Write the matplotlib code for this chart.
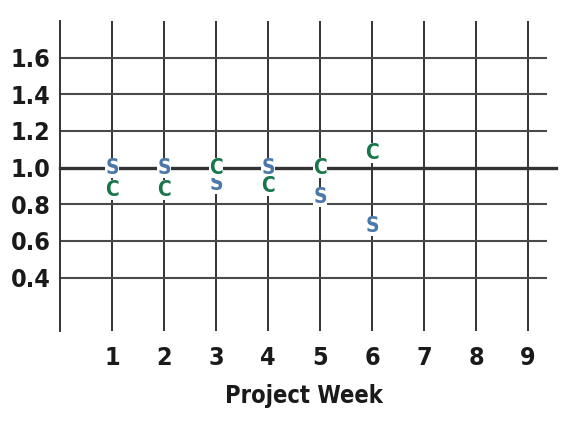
import matplotlib
matplotlib.use('Agg')
import matplotlib.pyplot as plt

# Project performance index per week (S = schedule, C = cost)
weeks = [1, 2, 3, 4, 5, 6]
spi = [1.00, 1.00, 0.91, 1.00, 0.84, 0.68]
cpi = [0.88, 0.88, 1.00, 0.90, 1.00, 1.08]

x_ticks = [1, 2, 3, 4, 5, 6, 7, 8, 9]
y_ticks = [0.4, 0.6, 0.8, 1.0, 1.2, 1.4, 1.6]
y_tick_labels = ['0.4', '0.6', '0.8', '1.0', '1.2', '1.4', '1.6']

FONT = dict(family='DejaVu Sans', fontstretch='condensed', fontweight='bold')
S_COLOR = '#4a78a8'
C_COLOR = '#17774a'
LINE_COLOR = '#333333'
TEXT_COLOR = '#1a1a1a'

fig = plt.figure(figsize=(5.71, 4.24), dpi=100)
ax = fig.add_axes([60 / 571, 1 - 331 / 424, 487 / 571, 310 / 424])

ax.set_xlim(0, 487 / 52)
ax.set_ylim(0.108, 1.800)

for s in ['top', 'right', 'bottom']:
    ax.spines[s].set_visible(False)
ax.spines['left'].set_color(LINE_COLOR)
ax.spines['left'].set_linewidth(1.4)

# grid lines
for xv in x_ticks:
    ax.axvline(xv, color=LINE_COLOR, linewidth=1.4, zorder=1)
for yv in y_ticks:
    if yv == 1.0:
        ax.axhline(yv, xmin=0, xmax=1.018, color=LINE_COLOR, linewidth=2.4,
                   zorder=1, clip_on=False)
    else:
        ax.axhline(yv, color='#4a4a4a', linewidth=1.5, zorder=1)

# letter markers
box = dict(boxstyle='square,pad=0.0', facecolor='white', edgecolor='none')
for w, v in zip(weeks, spi):
    ax.text(w, v, 'S', color=S_COLOR, fontsize=15, ha='center', va='center',
            zorder=3, bbox=box, **FONT)
for w, v in zip(weeks, cpi):
    ax.text(w, v, 'C', color=C_COLOR, fontsize=15, ha='center', va='center',
            zorder=3, bbox=box, **FONT)

ax.set_xticks(x_ticks)
ax.set_xticklabels([str(x) for x in x_ticks], fontsize=18, color=TEXT_COLOR, **FONT)
ax.set_yticks(y_ticks)
ax.set_yticklabels(y_tick_labels, fontsize=18, color=TEXT_COLOR, **FONT)
ax.tick_params(axis='both', length=0)
ax.tick_params(axis='y', pad=7)
ax.tick_params(axis='x', pad=11)

ax.set_xlabel('Project Week', fontsize=17, color=TEXT_COLOR, labelpad=10, **FONT)

fig.savefig('out.png', dpi=100)
